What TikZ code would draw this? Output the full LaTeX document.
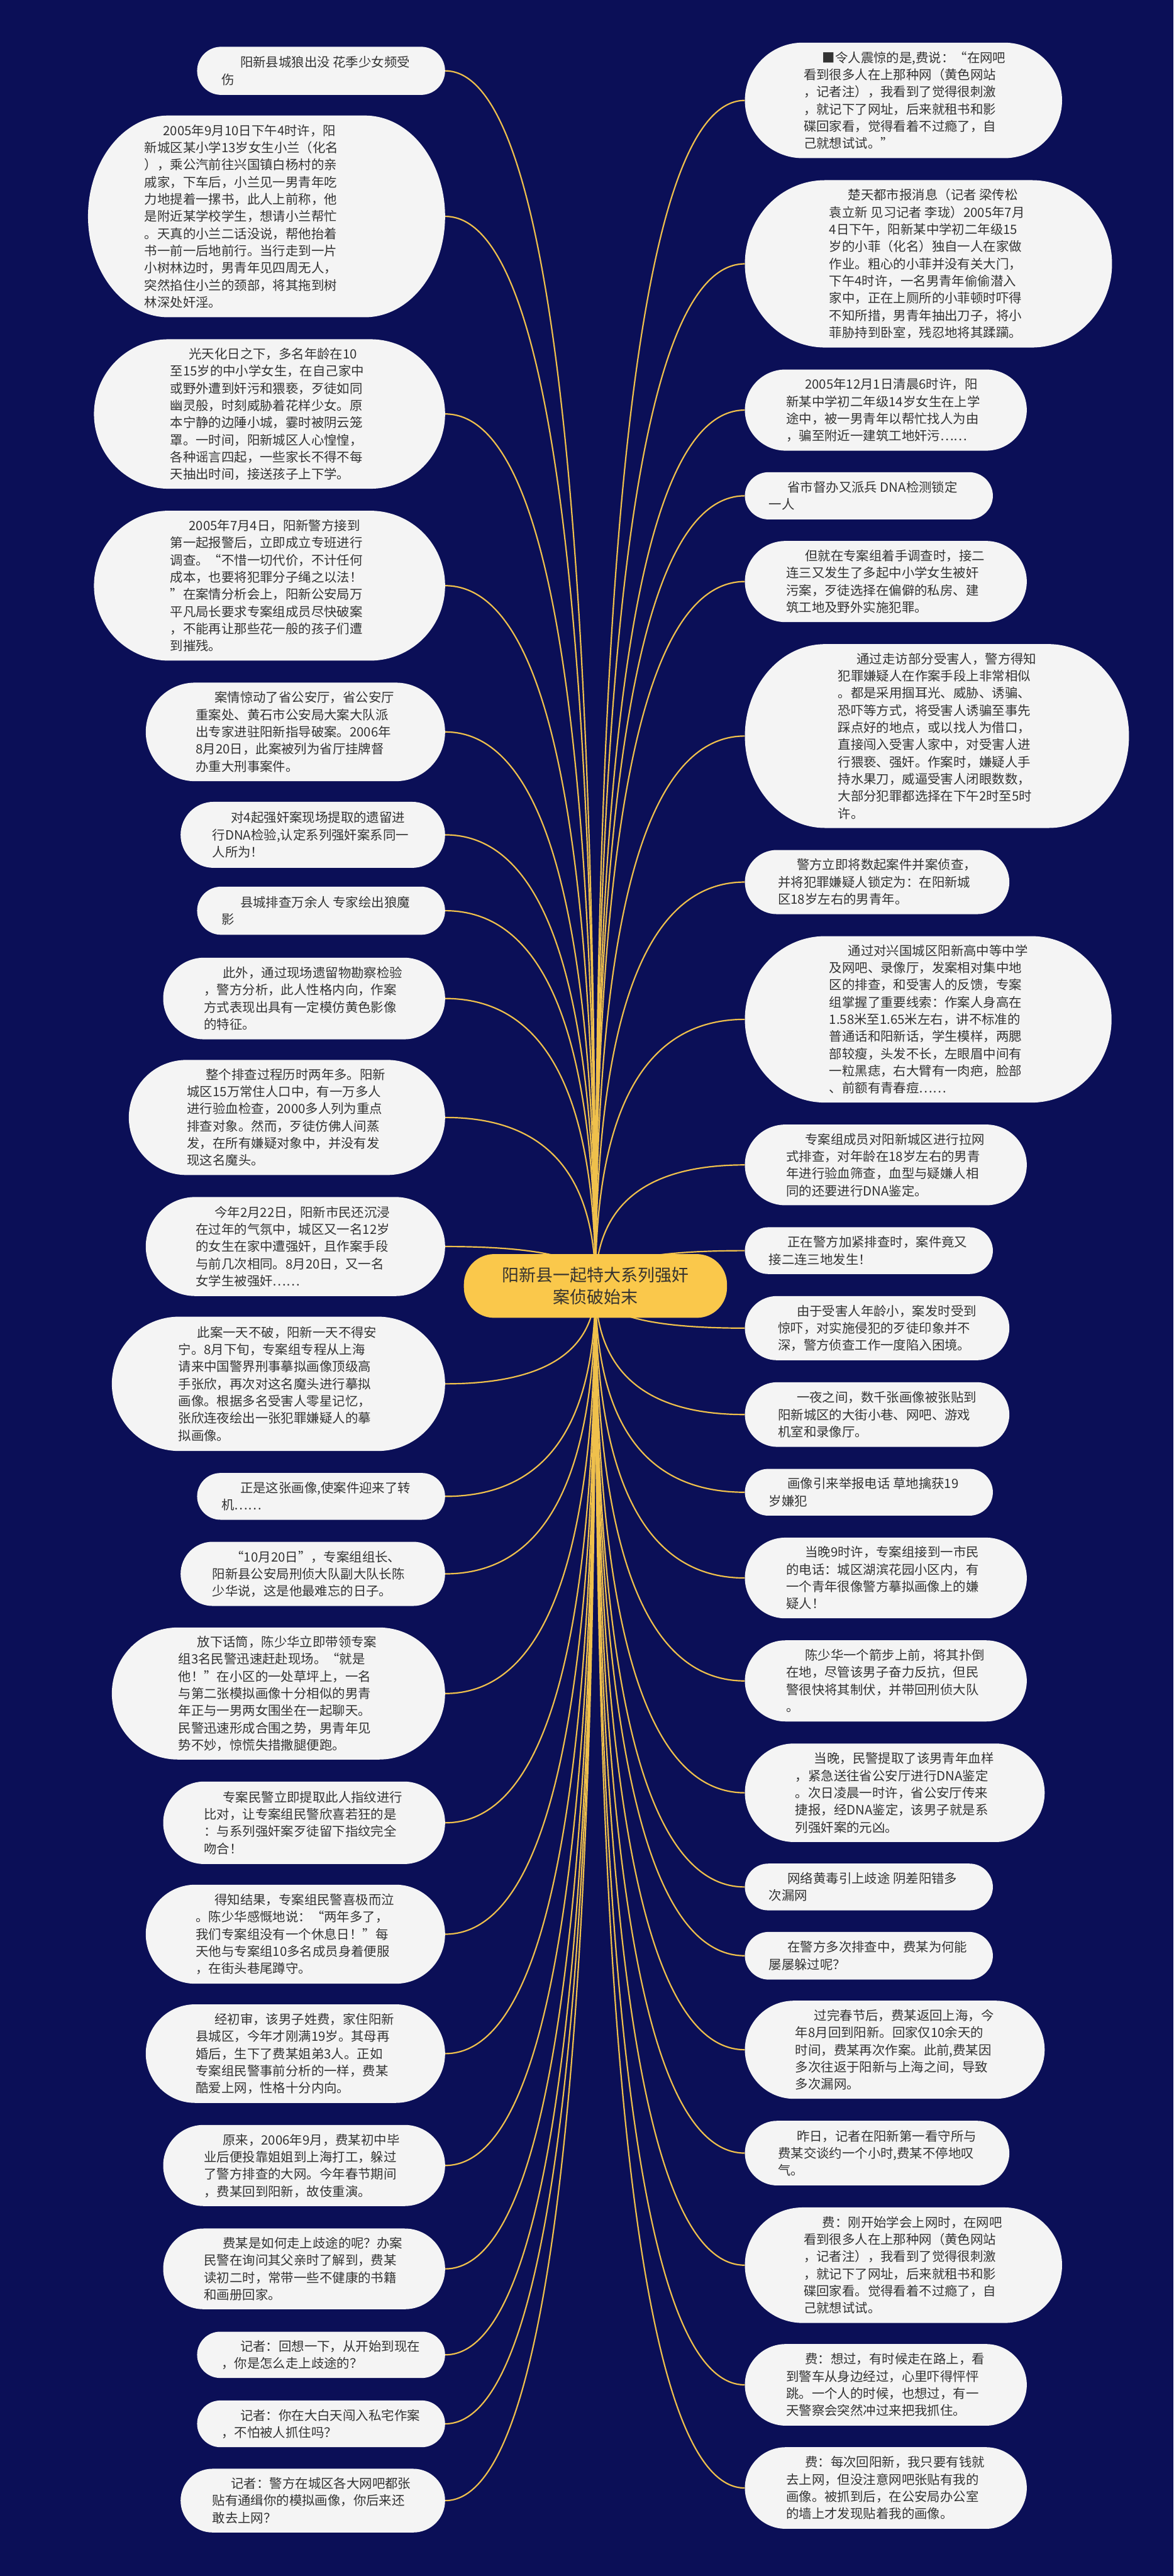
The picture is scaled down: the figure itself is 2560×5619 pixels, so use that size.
\documentclass[tikz,border=0pt]{standalone}
\usepackage{fontspec}
\usetikzlibrary{calc}
\setmainfont{Noto Sans CJK SC}
\definecolor{bgc}{HTML}{0B0F57}
\definecolor{bubc}{HTML}{F4F4F4}
\definecolor{txc}{HTML}{333333}
\definecolor{goldc}{HTML}{EFC04C}
\definecolor{yelc}{HTML}{FAC84B}
\pgfdeclarelayer{back}
\pgfsetlayers{back,main}
\newcommand\bubble[8]{%
  \pgfmathsetmacro\ry{(#5-#3)/2}%
  \pgfmathsetmacro\rx{min(\ry,175)}%
  \pgfmathsetmacro\ym{(#3+#5)/2}%
  \pgfmathsetmacro\xm{(#2+#4)/2}%
  \pgfmathsetmacro\kx{0.5523*\rx}%
  \pgfmathsetmacro\ky{0.5523*\ry}%
  \pgfmathsetmacro\xa{#2+\rx}%
  \pgfmathsetmacro\xb{#4-\rx}%
  \pgfmathsetmacro\bw{#4-#2}%
  \pgfmathsetmacro\bh{#5-#3}%
  \pgfmathsetmacro\ty{\ym-(#7-1)*18.75-15.5}%
  \fill[bubc] (\xa,#3) -- (\xb,#3) .. controls (\xb+\kx,#3) and (#4,\ym-\ky) .. (#4,\ym)
     .. controls (#4,\ym+\ky) and (\xb+\kx,#5) .. (\xb,#5) -- (\xa,#5)
     .. controls (\xa-\kx,#5) and (#2,\ym+\ky) .. (#2,\ym)
     .. controls (#2,\ym-\ky) and (\xa-\kx,#3) .. (\xa,#3) -- cycle;
  \node[inner sep=0pt, minimum width=\bw pt, minimum height=\bh pt] (#1) at (\xm,\ym) {};
  \node[txtstyle] (#1t) at (#6,\ty) {\rule{0pt}{26pt}\hspace*{41pt}#8};%
}
\begin{document}
\begin{tikzpicture}[x=1pt,y=-1pt,
  txtstyle/.style={anchor=north west, inner sep=0pt, align=left, text=txc,
     font=\fontsize{28pt}{37.5pt}\selectfont},
  conn/.style={draw=goldc, line width=3pt},
  central/.style={fill=yelc, rounded corners=66pt, minimum width=574pt, minimum height=139pt,
     inner sep=0pt, align=center, text=black!85!yellow!60!black, font=\fontsize{37pt}{48pt}\selectfont}]
\useasboundingbox (0,0) rectangle (2560,5619);
\begin{pgfonlayer}{back}
\fill[bgc] (0,0) rectangle (2560,5619);
\end{pgfonlayer}

\node[central] (C) at (1299,2805) {阳新县一起特大系列强奸\\案侦破始末};

% left column
\bubble{L1}{430}{102}{971}{207}{483}{2}{阳新县城狼出没 花季少女频受\\伤}
\bubble{L2}{192}{252}{971}{692}{315}{11}{2005年9月10日下午4时许，阳\\新城区某小学13岁女生小兰（化名\\），乘公汽前往兴国镇白杨村的亲\\戚家，下车后，小兰见一男青年吃\\力地提着一摞书，此人上前称，他\\是附近某学校学生，想请小兰帮忙\\。天真的小兰二话没说，帮他抬着\\书一前一后地前行。当行走到一片\\小树林边时，男青年见四周无人，\\突然掐住小兰的颈部，将其拖到树\\林深处奸淫。}
\bubble{L3}{205}{740}{971}{1066}{371}{8}{光天化日之下，多名年龄在10\\至15岁的中小学女生，在自己家中\\或野外遭到奸污和猥亵，歹徒如同\\幽灵般，时刻威胁着花样少女。原\\本宁静的边陲小城，霎时被阴云笼\\罩。一时间，阳新城区人心惶惶，\\各种谣言四起，一些家长不得不每\\天抽出时间，接送孩子上下学。}
\bubble{L4}{205}{1114}{971}{1441}{371}{8}{2005年7月4日，阳新警方接到\\第一起报警后，立即成立专班进行\\调查。“不惜一切代价，不计任何\\成本，也要将犯罪分子绳之以法！\\”在案情分析会上，阳新公安局万\\平凡局长要求专案组成员尽快破案\\，不能再让那些花一般的孩子们遭\\到摧残。}
\bubble{L5}{318}{1489}{971}{1704}{427}{5}{案情惊动了省公安厅，省公安厅\\重案处、黄石市公安局大案大队派\\出专家进驻阳新指导破案。2006年\\8月20日，此案被列为省厅挂牌督\\办重大刑事案件。}
\bubble{L6}{394}{1749}{971}{1893}{463}{3}{对4起强奸案现场提取的遗留进\\行DNA检验,认定系列强奸案系同一\\人所为！}
\bubble{L7}{430}{1934}{971}{2039}{483}{2}{县城排查万余人 专家绘出狼魔\\影}
\bubble{L8}{356}{2089}{971}{2267}{445}{4}{此外，通过现场遗留物勘察检验\\，警方分析，此人性格内向，作案\\方式表现出具有一定模仿黄色影像\\的特征。}
\bubble{L9}{281}{2312}{971}{2563}{408}{6}{整个排查过程历时两年多。阳新\\城区15万常住人口中，有一万多人\\进行验血检查，2000多人列为重点\\排查对象。然而，歹徒仿佛人间蒸\\发，在所有嫌疑对象中，并没有发\\现这名魔头。}
\bubble{L10}{318}{2611}{971}{2827}{427}{5}{今年2月22日，阳新市民还沉浸\\在过年的气氛中，城区又一名12岁\\的女生在家中遭强奸，且作案手段\\与前几次相同。8月20日，又一名\\女学生被强奸……}
\bubble{L11}{244}{2872}{971}{3165}{389}{7}{此案一天不破，阳新一天不得安\\宁。8月下旬，专案组专程从上海\\请来中国警界刑事摹拟画像顶级高\\手张欣，再次对这名魔头进行摹拟\\画像。根据多名受害人零星记忆，\\张欣连夜绘出一张犯罪嫌疑人的摹\\拟画像。}
\bubble{L12}{430}{3213}{971}{3315}{483}{2}{正是这张画像,使案件迎来了转\\机……}
\bubble{L13}{394}{3363}{971}{3503}{463}{3}{“10月20日”，专案组组长、\\阳新县公安局刑侦大队副大队长陈\\少华说，这是他最难忘的日子。}
\bubble{L14}{244}{3550}{971}{3838}{389}{7}{放下话筒，陈少华立即带领专案\\组3名民警迅速赶赴现场。“就是\\他！”在小区的一处草坪上，一名\\与第二张模拟画像十分相似的男青\\年正与一男两女围坐在一起聊天。\\民警迅速形成合围之势，男青年见\\势不妙，惊慌失措撒腿便跑。}
\bubble{L15}{356}{3886}{971}{4066}{445}{4}{专案民警立即提取此人指纹进行\\比对，让专案组民警欣喜若狂的是\\：与系列强奸案歹徒留下指纹完全\\吻合！}
\bubble{L16}{318}{4111}{971}{4327}{427}{5}{得知结果，专案组民警喜极而泣\\。陈少华感慨地说：“两年多了，\\我们专案组没有一个休息日！”每\\天他与专案组10多名成员身着便服\\，在街头巷尾蹲守。}
\bubble{L17}{318}{4372}{971}{4587}{427}{5}{经初审，该男子姓费，家住阳新\\县城区，今年才刚满19岁。其母再\\婚后，生下了费某姐弟3人。正如\\专案组民警事前分析的一样，费某\\酷爱上网，性格十分内向。}
\bubble{L18}{356}{4635}{971}{4812}{445}{4}{原来，2006年9月，费某初中毕\\业后便投靠姐姐到上海打工，躲过\\了警方排查的大网。今年春节期间\\，费某回到阳新，故伎重演。}
\bubble{L19}{356}{4861}{971}{5037}{445}{4}{费某是如何走上歧途的呢？办案\\民警在询问其父亲时了解到，费某\\读初二时，常带一些不健康的书籍\\和画册回家。}
\bubble{L20}{430}{5086}{971}{5187}{483}{2}{记者：回想一下，从开始到现在\\，你是怎么走上歧途的？}
\bubble{L21}{430}{5236}{971}{5338}{483}{2}{记者：你在大白天闯入私宅作案\\，不怕被人抓住吗？}
\bubble{L22}{394}{5385}{971}{5524}{463}{3}{记者：警方在城区各大网吧都张\\贴有通缉你的模拟画像，你后来还\\敢去上网？}

% right column
\bubble{R1}{1625}{93}{2317}{345}{1753}{6}{■令人震惊的是,费说：“在网吧\\看到很多人在上那种网（黄色网站\\，记者注），我看到了觉得很刺激\\，就记下了网址，后来就租书和影\\碟回家看，觉得看着不过瘾了，自\\己就想试试。”}
\bubble{R2}{1625}{393}{2426}{758}{1809}{9}{楚天都市报消息（记者 梁传松\\袁立新 见习记者 李珑）2005年7月\\4日下午，阳新某中学初二年级15\\岁的小菲（化名）独自一人在家做\\作业。粗心的小菲并没有关大门，\\下午4时许，一名男青年偷偷潜入\\家中，正在上厕所的小菲顿时吓得\\不知所措，男青年抽出刀子，将小\\菲胁持到卧室，残忍地将其蹂躏。}
\bubble{R3}{1625}{806}{2240}{983}{1715}{4}{2005年12月1日清晨6时许，阳\\新某中学初二年级14岁女生在上学\\途中，被一男青年以帮忙找人为由\\，骗至附近一建筑工地奸污……}
\bubble{R4}{1625}{1030}{2166}{1133}{1677}{2}{省市督办又派兵 DNA检测锁定\\一人}
\bubble{R5}{1625}{1180}{2240}{1357}{1715}{4}{但就在专案组着手调查时，接二\\连三又发生了多起中小学女生被奸\\污案，歹徒选择在偏僻的私房、建\\筑工地及野外实施犯罪。}
\bubble{R6}{1625}{1405}{2463}{1806}{1828}{10}{通过走访部分受害人，警方得知\\犯罪嫌疑人在作案手段上非常相似\\。都是采用掴耳光、威胁、诱骗、\\恐吓等方式，将受害人诱骗至事先\\踩点好的地点，或以找人为借口，\\直接闯入受害人家中，对受害人进\\行猥亵、强奸。作案时，嫌疑人手\\持水果刀，威逼受害人闭眼数数，\\大部分犯罪都选择在下午2时至5时\\许。}
\bubble{R7}{1625}{1854}{2202}{1994}{1697}{3}{警方立即将数起案件并案侦查，\\并将犯罪嫌疑人锁定为：在阳新城\\区18岁左右的男青年。}
\bubble{R8}{1625}{2042}{2425}{2405}{1809}{9}{通过对兴国城区阳新高中等中学\\及网吧、录像厅，发案相对集中地\\区的排查，和受害人的反馈，专案\\组掌握了重要线索：作案人身高在\\1.58米至1.65米左右，讲不标准的\\普通话和阳新话，学生模样，两腮\\部较瘦，头发不长，左眼眉中间有\\一粒黑痣，右大臂有一肉疤，脸部\\、前额有青春痘……}
\bubble{R9}{1625}{2453}{2240}{2629}{1715}{4}{专案组成员对阳新城区进行拉网\\式排查，对年龄在18岁左右的男青\\年进行验血筛查，血型与疑嫌人相\\同的还要进行DNA鉴定。}
\bubble{R10}{1625}{2677}{2166}{2779}{1677}{2}{正在警方加紧排查时，案件竟又\\接二连三地发生！}
\bubble{R11}{1625}{2827}{2202}{2967}{1697}{3}{由于受害人年龄小，案发时受到\\惊吓，对实施侵犯的歹徒印象并不\\深，警方侦查工作一度陷入困境。}
\bubble{R12}{1625}{3015}{2202}{3156}{1697}{3}{一夜之间，数千张画像被张贴到\\阳新城区的大街小巷、网吧、游戏\\机室和录像厅。}
\bubble{R13}{1625}{3204}{2166}{3306}{1677}{2}{画像引来举报电话 草地擒获19\\岁嫌犯}
\bubble{R14}{1625}{3354}{2240}{3530}{1715}{4}{当晚9时许，专案组接到一市民\\的电话：城区湖滨花园小区内，有\\一个青年很像警方摹拟画像上的嫌\\疑人！}
\bubble{R15}{1625}{3578}{2240}{3755}{1715}{4}{陈少华一个箭步上前，将其扑倒\\在地，尽管该男子奋力反抗，但民\\警很快将其制伏，并带回刑侦大队\\。}
\bubble{R16}{1625}{3803}{2279}{4018}{1735}{5}{当晚，民警提取了该男青年血样\\，紧急送往省公安厅进行DNA鉴定\\。次日凌晨一时许，省公安厅传来\\捷报，经DNA鉴定，该男子就是系\\列强奸案的元凶。}
\bubble{R17}{1625}{4065}{2166}{4167}{1677}{2}{网络黄毒引上歧途 阴差阳错多\\次漏网}
\bubble{R18}{1625}{4214}{2166}{4318}{1677}{2}{在警方多次排查中，费某为何能\\屡屡躲过呢？}
\bubble{R19}{1625}{4364}{2279}{4578}{1735}{5}{过完春节后，费某返回上海，今\\年8月回到阳新。回家仅10余天的\\时间，费某再次作案。此前,费某因\\多次往返于阳新与上海之间，导致\\多次漏网。}
\bubble{R20}{1625}{4626}{2202}{4767}{1697}{3}{昨日，记者在阳新第一看守所与\\费某交谈约一个小时,费某不停地叹\\气。}
\bubble{R21}{1625}{4815}{2317}{5067}{1753}{6}{费：刚开始学会上网时，在网吧\\看到很多人在上那种网（黄色网站\\，记者注），我看到了觉得很刺激\\，就记下了网址，后来就租书和影\\碟回家看。觉得看着不过瘾了，自\\己就想试试。}
\bubble{R22}{1625}{5113}{2240}{5291}{1715}{4}{费：想过，有时候走在路上，看\\到警车从身边经过，心里吓得怦怦\\跳。一个人的时候，也想过，有一\\天警察会突然冲过来把我抓住。}
\bubble{R23}{1625}{5338}{2240}{5516}{1715}{4}{费：每次回阳新，我只要有钱就\\去上网，但没注意网吧张贴有我的\\画像。被抓到后，在公安局办公室\\的墙上才发现贴着我的画像。}

% connectors (quadratic curves from the centre, drawn behind the nodes)
\begin{pgfonlayer}{back}
\foreach \n in {L1,L2,L3,L4,L5,L6,L7,L8,L9,L10,L11,L12,L13,L14,L15,L16,L17,L18,L19,L20,L21,L22}
  \draw[conn] (C.center) .. controls ($(C.center)!0.6667!(C.center |- \n.east)$)
     and ($(\n.east)!0.6667!(C.center |- \n.east)$) .. (\n.east);
\foreach \n in {R1,R2,R3,R4,R5,R6,R7,R8,R9,R10,R11,R12,R13,R14,R15,R16,R17,R18,R19,R20,R21,R22,R23}
  \draw[conn] (C.center) .. controls ($(C.center)!0.6667!(C.center |- \n.west)$)
     and ($(\n.west)!0.6667!(C.center |- \n.west)$) .. (\n.west);
\end{pgfonlayer}
\end{tikzpicture}
\end{document}
